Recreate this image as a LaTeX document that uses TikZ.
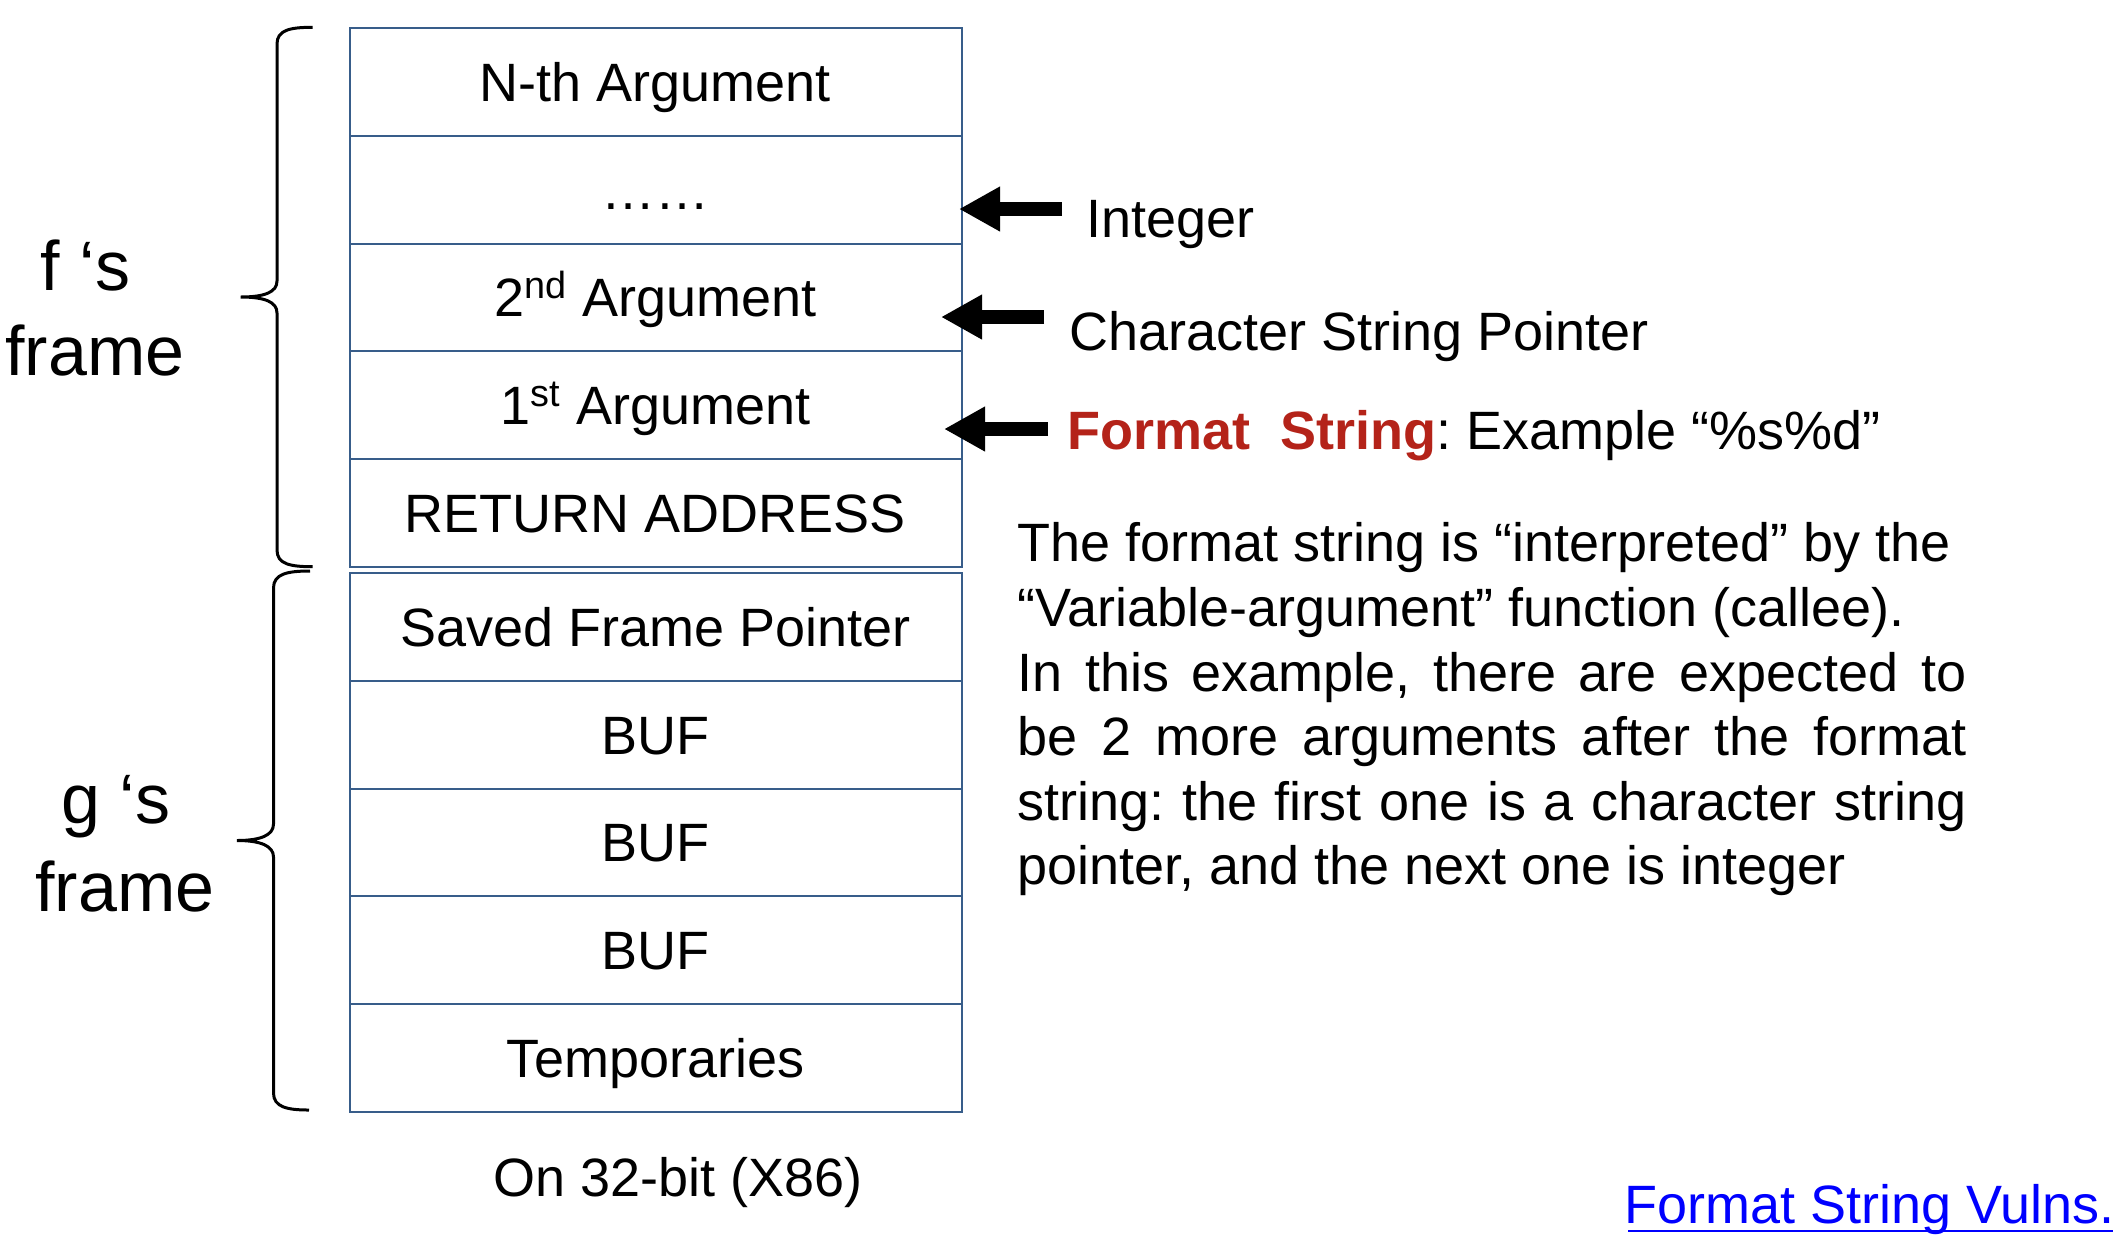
\documentclass[tikz,border=0pt]{standalone}
\usepackage{fontspec}
\setmainfont{Liberation Sans}
\usetikzlibrary{arrows.meta,calc}

\definecolor{boxblue}{RGB}{56,93,138}
\definecolor{fmtred}{RGB}{180,35,25}
\definecolor{linkblue}{RGB}{0,0,255}

\tikzset{
  stackrow/.style={draw=boxblue, line width=1pt, minimum width=306pt, minimum height=53.9pt,
    inner sep=0pt, text height=19.3pt, text depth=0pt, font=\fontsize{27}{32.3}\selectfont},
  framelbl/.style={anchor=base, inner sep=0pt, font=\fontsize{35}{42}\selectfont},
  plainlbl/.style={inner sep=0pt, font=\fontsize{27}{32.3}\selectfont\frenchspacing},
  blockarrow/.style={line width=7pt, -{Triangle[length=20.5pt,width=21pt]}},
  framebrace/.style={line width=1.5pt},
}

\begin{document}
\begin{tikzpicture}[x=0.5pt,y=0.5pt,yscale=-1,xscale=1]
\useasboundingbox (0,0) rectangle (2128,1254);

% f's frame rows
\draw (655.5,81.9) node [stackrow] (nth) {N-th Argument};
\draw (655.5,189.7) node [stackrow] (dots) {……};
\draw (655.5,297.5) node [stackrow] (arg2) {2\textsuperscript{nd} Argument};
\draw (655.5,405.3) node [stackrow] (arg1) {1\textsuperscript{st} Argument};
\draw (655.5,513.1) node [stackrow] (ret) {RETURN ADDRESS};
% g's frame rows
\draw (655.5,626.9) node [stackrow] (sfp) {Saved Frame Pointer};
\draw (655.5,734.7) node [stackrow] (bufa) {BUF};
\draw (655.5,842.5) node [stackrow] (bufb) {BUF};
\draw (655.5,950.3) node [stackrow] (bufc) {BUF};
\draw (655.5,1058.1) node [stackrow] (temps) {Temporaries};

%Braces
\draw [framebrace] (312.7,27.3) .. controls (290,27.3) and (277,30) .. (277,44) -- (277,281) .. controls (277,292) and (265,297) .. (240.7,297) .. controls (265,297) and (277,302) .. (277,313) -- (277,550) .. controls (277,564) and (290,566.7) .. (312.7,566.7) ;
\draw [framebrace] (310,571) .. controls (287,571) and (273.5,574) .. (273.5,588) -- (273.5,824) .. controls (273.5,835) and (261,840.5) .. (237,840.5) .. controls (261,840.5) and (273.5,846) .. (273.5,857) -- (273.5,1093) .. controls (273.5,1107) and (287,1110) .. (309,1110) ;

% Text Node
\draw (85.5,290) node [framelbl] (fname) {f ‘s};
\draw (95,375) node [framelbl] (fframe) {frame};
% Text Node
\draw (116,823) node [framelbl] (gname) {g ‘s};
\draw (125,911) node [framelbl] (gframe) {frame};

% Text Node
\draw (1085.7,237.3) node [plainlbl, anchor=base west] (intlbl) {Integer};
% Text Node
\draw (1069,350) node [plainlbl, anchor=base west] (ptrlbl) {Character String Pointer};
% Text Node
\draw (1067,449.3) node [plainlbl, anchor=base west] (fmtlbl) {\textcolor{fmtred}{\textbf{Format~~String}}: Example “\%s\%d”};

%Block arrows
\coordinate (intTail) at (1062,209);
\coordinate (intTip) at (959,209);
\coordinate (ptrTail) at (1044,317);
\coordinate (ptrTip) at (941,317);
\coordinate (fmtTail) at (1048,429);
\coordinate (fmtTip) at (944,429);
\draw [blockarrow] (intTail) -- (intTip);
\draw [blockarrow] (ptrTail) -- (ptrTip);
\draw [blockarrow] (fmtTail) -- (fmtTip);

% Text Node
\draw (1017,516.2) node [plainlbl, anchor=north west, text width=474.5pt, align=justify] (explain) {\noindent\strut The format string is “interpreted” by the\newline “Variable-argument” function (callee).\newline In this example, there are expected to\linebreak be 2 more arguments after the format\linebreak string: the first one is a character string\linebreak pointer, and the next one is integer};

% Text Node
\draw (678,1196.7) node [plainlbl, anchor=base] (arch) {On 32-bit (X86)};
% Text Node
\draw (1624,1223.5) node [plainlbl, anchor=base west, text=linkblue] (vulns) {Format String Vulns.};
\draw [linkblue, line width=1.25pt] ($(vulns.base west)+(4,7.5)$) -- ($(vulns.base east)+(-2,7.5)$) ;

\end{tikzpicture}
\end{document}
